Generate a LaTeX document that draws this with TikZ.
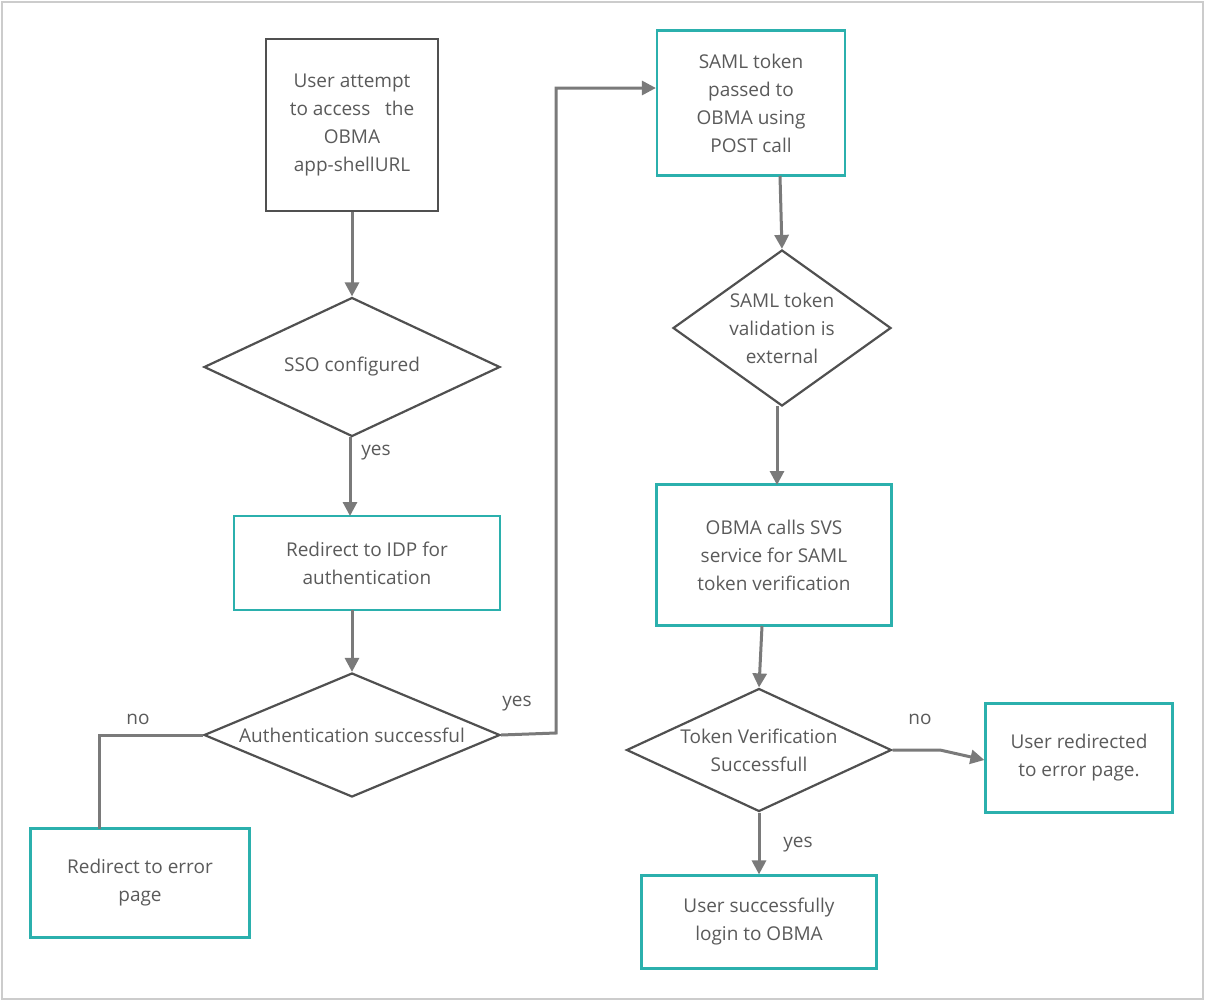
\documentclass[tikz,border=0pt]{standalone}
\usepackage{fontspec}
\setmainfont{Open Sans}
\usetikzlibrary{shapes.geometric,arrows.meta}
\definecolor{teal1}{HTML}{2BB0AD}
\definecolor{dk}{HTML}{505050}
\definecolor{ln}{HTML}{7A7A7A}
\definecolor{tx}{HTML}{5A5A5A}
\begin{document}
\begin{tikzpicture}[x=1pt,y=-1pt,
  every node/.style={font=\fontsize{19}{28}\selectfont,text=tx,align=center},
  gbox/.style={draw=dk,line width=2.2pt,inner sep=0pt},
  tbox/.style={draw=teal1,line width=2.2pt,inner sep=0pt},
  dia/.style={draw=dk,line width=2.2pt,diamond,inner sep=0pt},
  con/.style={draw=ln,line width=3pt,-{Triangle[length=14pt,width=14pt]}},
  conn/.style={draw=ln,line width=3pt},
  lbl/.style={font=\fontsize{19}{24}\selectfont}]
\useasboundingbox (0,0) rectangle (1205,1001);
\draw[draw=black!20,line width=2pt] (2,2) rectangle (1203,999);
\node[gbox,minimum width=172pt,minimum height=172pt] (A) at (352,125) {User attempt\\to access \ \ the\\OBMA\\app-shellURL};
\node[dia,minimum width=296pt,minimum height=139pt] (D1) at (352,367) {};
\node at (352,367) {SSO configured};
\node[tbox,minimum width=266pt,minimum height=94pt] (B) at (367,563) {Redirect to IDP for\\authentication};
\node[dia,minimum width=296pt,minimum height=124pt] (D2) at (352,735) {};
\node at (352,735) {Authentication successful};
\node[tbox,minimum width=219pt,minimum height=109pt] (E) at (140,883) {Redirect to error\\page};
\node[tbox,minimum width=188pt,minimum height=145pt] (C) at (751,103) {SAML token\\passed to\\OBMA using\\POST call};
\node[dia,minimum width=218pt,minimum height=156pt] (D3) at (782,328) {};
\node at (782,328) {SAML token\\validation is\\external};
\node[tbox,minimum width=235pt,minimum height=141pt] (F) at (774,555) {OBMA calls SVS\\service for SAML\\token verification};
\node[dia,minimum width=265pt,minimum height=123pt] (D4) at (759,750) {};
\node at (759,750) {Token Verification\\Successfull};
\node[tbox,minimum width=187pt,minimum height=109pt] (G) at (1079,758) {User redirected\\to error page.};
\node[tbox,minimum width=235pt,minimum height=93pt] (H) at (759,922) {User successfully\\login to OBMA};
\coordinate (p1) at (99,735);
\coordinate (p2) at (99,829);
\coordinate (q1) at (556,733);
\coordinate (q2) at (556,88);
\draw[con] (A.south) -- (D1.north);
\draw[con] (350,437) -- (350,516);
\draw[con] (352,610) -- (D2.north);
\draw[conn] (D2.west) -- (p1) -- (p2);
\draw[con] (D2.east) -- (q1) -- (q2) -- (C.west|-q2);
\draw[con] (780,176) -- (D3.north);
\draw[con] (777,406) -- (777,485);
\draw[con] (762,626) -- (D4.north);
\draw[con] (D4.east) -- (940,750) -- (G.west|-0,760);
\draw[con] (D4.south) -- (H.north);
\node[lbl] at (376,453) {yes};
\node[lbl] at (138,719) {no};
\node[lbl] at (517,704) {yes};
\node[lbl] at (920,719) {no};
\node[lbl] at (798,845) {yes};
\end{tikzpicture}
\end{document}
